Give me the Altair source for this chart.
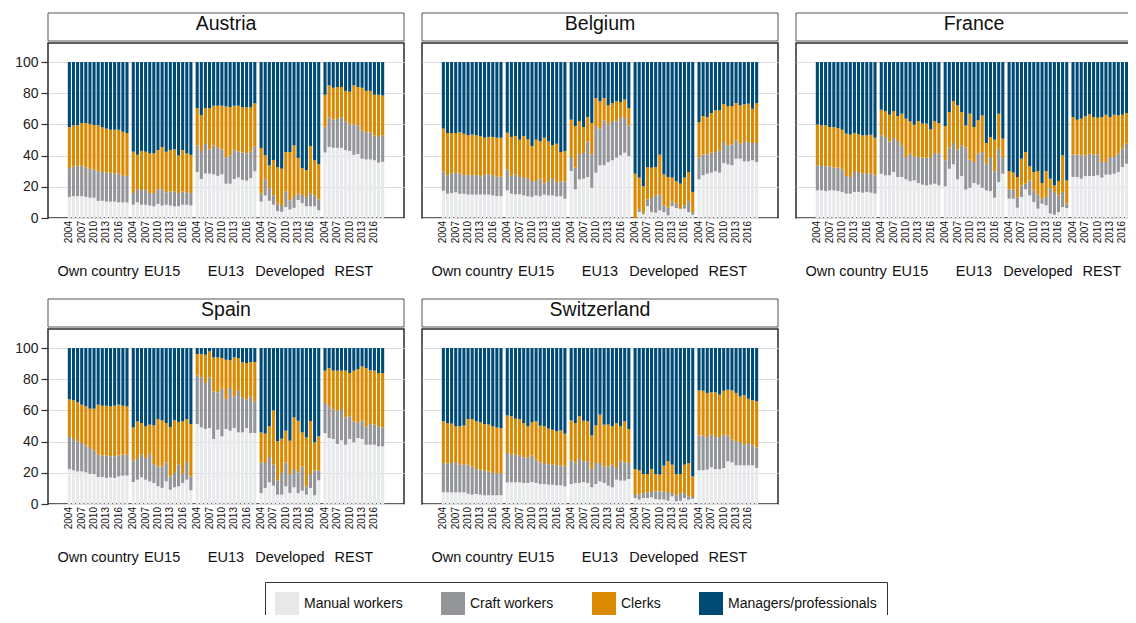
import altair as alt
import pandas as pd

FONT = "Liberation Sans"
GROUPS = ["Own country", "EU15", "EU13", "Developed", "REST"]
YEARS = list(range(2004, 2019))
LABEL_YEARS = [2004, 2007, 2010, 2013, 2016]
CATEGORIES = ["Manual workers", "Craft workers", "Clerks", "Managers/professionals"]
COLORS = ["#e8e9eb", "#949599", "#d98a00", "#004b76"]

# Cumulative upper edges (percent) of each segment; managers/professionals fill to 100.
# Each list: one row of 15 years (2004-2018) per origin group, in GROUPS order.
AUSTRIA_MANUAL = [
    [13.5, 14, 14, 14, 13.5, 13, 13, 11, 11, 10.5, 10.5, 10.5, 10, 10, 10],
    [8.5, 10, 8.5, 8.5, 8, 7.5, 9, 8, 8.5, 8, 7.5, 7.5, 8.5, 8.5, 8],
    [29.5, 25, 28.5, 28.5, 28, 27, 28, 22, 22, 25, 26, 24.5, 24, 25.5, 30],
    [10.5, 14.5, 11, 8.5, 4.5, 4, 7, 5.5, 6.5, 11.5, 9.5, 7.5, 7.5, 7.5, 5],
    [42, 45.5, 45, 45, 45, 43.5, 43, 40.5, 41, 38, 37.5, 37.5, 37, 35.5, 36],
]
AUSTRIA_CRAFT = [
    [32, 33, 33.5, 33.5, 32.5, 31.5, 31, 30, 29.5, 29, 29, 28.5, 28.5, 27, 27],
    [16, 18.5, 18, 18, 16, 16, 18.5, 18.5, 16.5, 17, 17, 16, 17, 16.5, 16],
    [46.5, 43, 47.5, 44, 46.5, 45, 44, 39, 40, 43.5, 42.5, 42, 41.5, 42.5, 46],
    [15.6, 24.8, 19.2, 14.5, 9.2, 7.7, 17.1, 11.3, 13.5, 15.6, 14.8, 13.5, 15.6, 14.5, 12],
    [58.5, 64.5, 63, 63.5, 64.5, 62, 60, 60, 59.5, 56, 55, 55, 53, 52, 53],
]
AUSTRIA_CLERKS = [
    [58.3, 59.4, 59.4, 60.9, 60.9, 60.3, 59.6, 59.4, 58.1, 57.3, 56.6, 56.6, 56.6, 55.3, 54.5],
    [42.5, 40.5, 43, 42.5, 41.5, 41.5, 43.5, 45.5, 42.5, 43.5, 44, 40, 43.5, 41.5, 40.5],
    [70.5, 66, 70.5, 70.5, 72, 72, 72, 71.5, 71, 72, 72, 71, 71, 71, 73.5],
    [44.9, 40.2, 33.8, 37.2, 32.7, 31.6, 42.3, 42.3, 46.6, 38.5, 32, 30.6, 46.2, 37, 34.6],
    [79, 85, 83.5, 84, 84, 81.5, 81, 85, 84, 83.5, 81.5, 81.5, 79, 79, 78.5],
]

BELGIUM_MANUAL = [
    [17.5, 15.5, 16, 16.5, 15.5, 15.5, 15, 15, 15, 15, 15, 15, 14.5, 14, 14],
    [17.7, 15.6, 15.2, 15.2, 14.5, 13.9, 13.5, 14.5, 13.9, 15, 14.5, 14.5, 13.9, 13.9, 12.4],
    [30.1, 18.4, 24.8, 25.2, 26.3, 19.4, 29.1, 33.8, 33.8, 35.9, 37, 38.7, 40.2, 41.9, 39.7],
    [0, 3.8, 2.4, 7.7, 3.8, 3.4, 4.9, 3.8, 1.7, 7.7, 6.4, 9.2, 6, 3.8, 2.1],
    [24.8, 27.4, 28.4, 29.1, 29.9, 29.1, 35.3, 34.4, 33.8, 38, 38, 36.3, 36.3, 37, 35.9],
]
BELGIUM_CRAFT = [
    [30, 27.5, 28.5, 29, 28.5, 27.5, 27.5, 27.5, 27.5, 26.5, 27.5, 28, 27.5, 26.5, 26.5],
    [31, 27, 28, 26.3, 26.3, 25.2, 23.7, 23.7, 25.2, 22, 23.7, 25.6, 23, 23.5, 23.5],
    [39.1, 32.3, 41, 41.7, 49.1, 40.8, 59, 57.3, 62.6, 60, 62.2, 62, 64.7, 64.1, 59.4],
    [0, 5.6, 3.4, 12, 12.8, 14.5, 15, 8.1, 6.6, 10.7, 9.2, 6, 8.1, 10.7, 3.8],
    [38.9, 40.8, 40.8, 41.9, 42.3, 43.4, 48.7, 46.6, 47, 49.8, 47.6, 48.7, 48.7, 48.1, 48.1],
]
BELGIUM_CLERKS = [
    [57.3, 54.5, 54.5, 54.5, 55, 54, 53, 53.5, 53, 52.5, 51.5, 52, 52, 51.5, 51.5],
    [54.7, 52, 52.6, 50.2, 52.6, 50.4, 46.2, 50.2, 49.1, 51.5, 49.1, 46.6, 47.6, 42.3, 43],
    [63, 59, 62.2, 58.3, 64.7, 60.9, 76.9, 74.8, 76.9, 72.2, 73.7, 74.8, 74.4, 75.9, 70.5],
    [28.4, 25.9, 20.3, 32.7, 32.3, 32.7, 40.6, 28, 26.3, 25.9, 23.7, 22, 25.9, 29.5, 16.7],
    [61.5, 65.4, 64.7, 67.3, 69, 69, 73.1, 71.8, 71.8, 73.7, 72.2, 72.9, 73.3, 70, 73.7],
]

FRANCE_MANUAL = [
    [17.7, 17.7, 17.3, 17.7, 17.7, 17.3, 16.7, 15.6, 15.6, 16.7, 16.7, 16.2, 16.7, 16.2, 15.6],
    [28.4, 27.4, 27.4, 29.5, 26.3, 26.3, 24.8, 23.5, 24.1, 22.4, 21.4, 20.9, 21.4, 22, 20.9],
    [20.3, 31.6, 34.4, 24.8, 26.9, 18.2, 19.4, 22.4, 21.4, 19.4, 17.7, 17.3, 13, 23, 28.4],
    [12.4, 12.4, 6.6, 13.5, 18.4, 14.5, 10.3, 6, 9.2, 8.1, 2.8, 2.1, 3.8, 7, 6.4],
    [26.3, 26.3, 25.2, 26.9, 26.9, 26.9, 27.4, 25.9, 27.8, 27.8, 28.4, 29.5, 32.7, 34.8, 27.4],
]
FRANCE_CRAFT = [
    [33.8, 33.3, 33.3, 33.1, 32.3, 32.3, 31.2, 26.9, 26.3, 29.5, 29.5, 28.4, 28.8, 28.4, 27.4],
    [53, 51.9, 49.1, 51.3, 49.4, 46.6, 39.1, 41.2, 39.5, 39.1, 38.7, 38.7, 39.1, 41.7, 41.2],
    [37, 45.1, 48.1, 44, 46.6, 45.1, 37.4, 35.9, 41.2, 42.3, 34.8, 39.1, 29.9, 44.4, 39.1],
    [18.4, 18.4, 13, 20.9, 22, 24.1, 17.7, 15, 12.4, 13.5, 19.2, 16.7, 14.5, 16.7, 9.2],
    [40.8, 40.6, 40.2, 40.2, 41.2, 40.8, 40.8, 35.9, 35.9, 39.1, 39.1, 41.2, 44.4, 47.6, 40.2],
]
FRANCE_CLERKS = [
    [60, 59.4, 59.4, 58.3, 58.3, 57.7, 56.6, 54.1, 53.4, 54.5, 53.6, 53, 53, 53.4, 51.5],
    [69.4, 68.4, 66.2, 68.6, 65.4, 66.9, 63.7, 62, 59.8, 62.2, 60.5, 60.5, 56.8, 62.2, 60.9],
    [59, 67.9, 75, 72.2, 67.9, 59.4, 66.9, 58.3, 62.6, 65.8, 48.1, 51.9, 50.2, 66.9, 50.9],
    [30.1, 29.1, 26.3, 38, 42.3, 33.1, 29.5, 30.1, 22.4, 30.1, 25.2, 20.9, 23.7, 40.2, 24.1],
    [64.7, 63, 63.7, 65.2, 66.5, 64.7, 64.3, 64.7, 66.2, 64.7, 66.2, 65.8, 66.2, 67.3, 64.7],
]

SPAIN_MANUAL = [
    [22.4, 21.6, 20.9, 20.9, 20.3, 19.4, 19.2, 17.3, 17.3, 16.7, 17.1, 16.7, 17.7, 18.2, 18.2],
    [14.1, 15.6, 17.1, 15.6, 14.5, 13.5, 11.3, 10.3, 14.5, 9.2, 10.7, 11.3, 13.5, 15.6, 8.8],
    [51.3, 49.1, 48.1, 48.7, 41.7, 47.6, 43.4, 48.1, 47, 48.7, 45.9, 45.9, 48.7, 45.5, 45.5],
    [7, 10.3, 13.9, 11.8, 6, 6, 11.3, 7, 10.7, 7, 8.5, 6, 10.3, 5.6, 15.2],
    [45.5, 42.3, 41.7, 38.5, 40.8, 38, 41.7, 39.5, 42.3, 41.7, 38, 38, 38, 37, 37],
]
SPAIN_CRAFT = [
    [43, 41.7, 40.2, 39.1, 37.6, 35.9, 34.2, 31.6, 31.2, 31, 30.6, 30.6, 31.2, 31.6, 31.6],
    [27.8, 29.5, 31.6, 29.5, 31.6, 25.6, 24.1, 24.1, 26.7, 17.7, 19.9, 25.2, 19.4, 26.9, 17.7],
    [82.5, 81.2, 77.6, 81.2, 72.2, 71.6, 73.9, 67.5, 74.4, 69, 72.6, 68.4, 66.9, 69, 65.8],
    [26.7, 26.3, 30.1, 25.2, 15, 19.9, 26.7, 19.2, 22.4, 20.3, 24.1, 11.3, 19.2, 21.4, 21.4],
    [64.7, 62.6, 60.5, 59.8, 60.9, 55.6, 56.2, 52.9, 52.1, 53.4, 49.8, 51.3, 50.9, 49.8, 49],
]
SPAIN_CLERKS = [
    [67.1, 66.5, 65.2, 63.7, 62.6, 61.1, 61.1, 63.7, 63, 63, 62.6, 63, 63.7, 63, 62.6],
    [49.1, 52.9, 51.9, 49.8, 50.9, 50.4, 54.5, 53.6, 51.9, 49.4, 53.6, 52.6, 52.9, 54.5, 51.3],
    [96.2, 96.2, 95.7, 97.9, 94, 94, 93.6, 92.5, 92.1, 94, 93.6, 90.8, 90.4, 91, 91],
    [45.9, 45.1, 49.8, 60, 40.2, 41.9, 47, 40.6, 55.6, 53.4, 45.9, 42.7, 53.2, 39.5, 43.4],
    [85.5, 87.2, 85.5, 85.5, 85.5, 85.5, 84, 85.5, 86.5, 88.2, 87.2, 85.7, 85.5, 84, 84],
]

SWITZERLAND_MANUAL = [
    [7.5, 7.5, 7.5, 7.5, 7.5, 7.5, 6.6, 6, 6.4, 6, 5.6, 5.6, 5.6, 5.6, 5.6],
    [13.9, 13.9, 13.9, 13.9, 13.5, 13.5, 14.1, 13.5, 12.8, 12.8, 12.4, 12.4, 12, 12, 11.3],
    [12.8, 13.5, 13.5, 14.1, 13.5, 10.7, 12.8, 14.5, 13.5, 11.8, 10.7, 15.6, 15, 15, 16],
    [3.8, 2.8, 3.8, 3.8, 4.3, 3.2, 2.8, 2.8, 2.1, 4.9, 1.7, 2.1, 3.8, 2.8, 3.4],
    [21.6, 21.6, 22, 23.5, 22.4, 22.4, 23.1, 27.4, 26.7, 24.8, 24.8, 24.8, 24.8, 24.8, 23.1],
]
SWITZERLAND_CRAFT = [
    [26.3, 25.9, 26.3, 26.9, 25.2, 25.2, 25.2, 24.1, 22.4, 22, 21.4, 20.9, 19.9, 19.9, 19.4],
    [32.7, 31.6, 31.6, 31, 29.9, 29.9, 31.2, 28.4, 26.7, 26.3, 25.6, 25.2, 24.8, 24.8, 24.1],
    [28, 26.7, 28.8, 27.4, 27.4, 22.6, 26.3, 26.3, 24.1, 24.1, 25.2, 23.1, 27.8, 26.7, 26.3],
    [6.4, 6, 7, 7.5, 7.7, 8.5, 8.1, 8.1, 7.7, 7, 5.6, 7, 7, 4.9, 4.5],
    [44, 43.8, 42.9, 44.4, 42.9, 42.9, 44.4, 44, 41.2, 40.2, 39.7, 38, 39.1, 37.6, 36.3],
]
SWITZERLAND_CLERKS = [
    [53, 51.9, 51.5, 49.8, 49.8, 50.4, 54.5, 54.5, 53, 52.4, 51.3, 50.9, 49.8, 49.1, 48.7],
    [56.8, 56.2, 54.7, 54.5, 51.9, 49.8, 52.4, 53, 50.2, 49.8, 48.3, 47.6, 46.6, 47.2, 45.1],
    [53.6, 51.9, 56.2, 53.4, 53, 44, 50.4, 57.3, 50.9, 50.9, 49.8, 51.9, 49.8, 53, 48.1],
    [22.4, 21.6, 19.2, 19.2, 22.4, 19.2, 18.8, 24.6, 27.4, 25.2, 19.2, 19.2, 25.2, 26.3, 17.7],
    [72.9, 72.6, 71.2, 71.6, 71.6, 70.1, 72.6, 73.3, 72.9, 71.2, 69, 69.7, 67.5, 66.5, 65.8],
]

TOPS = {
    "Austria": (AUSTRIA_MANUAL, AUSTRIA_CRAFT, AUSTRIA_CLERKS),
    "Belgium": (BELGIUM_MANUAL, BELGIUM_CRAFT, BELGIUM_CLERKS),
    "France": (FRANCE_MANUAL, FRANCE_CRAFT, FRANCE_CLERKS),
    "Spain": (SPAIN_MANUAL, SPAIN_CRAFT, SPAIN_CLERKS),
    "Switzerland": (SWITZERLAND_MANUAL, SWITZERLAND_CRAFT, SWITZERLAND_CLERKS),
}

W = 356      # plot width of each panel
PH = 175     # plot height of each panel
HH = 28      # header box height
YMAX = 112.2


def country_frame(name):
    manual, craft, clerks = TOPS[name]
    rows = []
    for gi, g in enumerate(GROUPS):
        for yi, yr in enumerate(YEARS):
            edges = [0, manual[gi][yi], craft[gi][yi], clerks[gi][yi], 100]
            for ci, cat in enumerate(CATEGORIES):
                rows.append({"group": g, "year": yr, "category": cat,
                             "lo": edges[ci], "hi": edges[ci + 1]})
    return pd.DataFrame(rows)


def body(name, show_y):
    df = country_frame(name)
    xenc = alt.X(
        "group:N",
        scale=alt.Scale(domain=GROUPS, paddingInner=0.05, paddingOuter=0.31),
        axis=alt.Axis(title=None, labelAngle=0, labelPadding=46, ticks=False, domain=False,
                      labelFont=FONT, labelFontSize=14.5, labelColor="#111",
                      labelOverlap=False, labelBaseline="top"),
    )
    xoff = alt.XOffset("year:O", scale=alt.Scale(domain=YEARS, paddingInner=0.25, paddingOuter=0))
    if show_y:
        yaxis = alt.Axis(title=None, values=[0, 20, 40, 60, 80, 100], grid=True,
                         gridColor="#dcdcdc", gridWidth=1.2, domain=False,
                         tickSize=7, tickColor="#333", tickWidth=1.2, labelPadding=3,
                         labelFont=FONT, labelFontSize=14, labelColor="#222")
    else:
        yaxis = alt.Axis(title=None, values=[0, 20, 40, 60, 80, 100], grid=True,
                         gridColor="#dcdcdc", gridWidth=1.2, domain=False,
                         ticks=False, labels=False)
    bars = alt.Chart(df).mark_bar().encode(
        x=xenc,
        xOffset=xoff,
        y=alt.Y("lo:Q", scale=alt.Scale(domain=[0, YMAX], nice=False), axis=yaxis),
        y2="hi:Q",
        color=alt.Color(
            "category:N",
            scale=alt.Scale(domain=CATEGORIES, range=COLORS),
            legend=alt.Legend(title=None, orient="none", legendX=217, legendY=569,
                              direction="horizontal", symbolType="square", symbolSize=576,
                              symbolStrokeWidth=0, labelFont=FONT, labelFontSize=14,
                              labelColor="#111", strokeColor="#333", padding=10,
                              columnPadding=38, labelOffset=5),
        ),
    )
    lab_df = pd.DataFrame([(g, y) for g in GROUPS for y in LABEL_YEARS], columns=["group", "year"])
    labels = alt.Chart(lab_df).mark_text(
        angle=270, align="right", baseline="middle", fontSize=10, font=FONT, color="#111"
    ).encode(x=xenc, xOffset=xoff, y=alt.value(PH + 3), text="year:O")
    return alt.layer(bars, labels).properties(
        width=W, height=PH, view=alt.ViewBackground(stroke="#2b2b2b", strokeWidth=1.5)
    )


def panel(name, show_y):
    hd = pd.DataFrame({"country": [name]})
    box = alt.Chart(hd).mark_rect(fill="white", stroke="#555", strokeWidth=1).encode(
        x=alt.value(0), x2=alt.value(W), y=alt.value(0), y2=alt.value(HH)
    )
    txt = alt.Chart(hd).mark_text(font=FONT, fontSize=19.5, color="#111", baseline="alphabetic").encode(
        x=alt.value(W / 2), y=alt.value(17), text="country:N"
    )
    header = alt.layer(box, txt).properties(
        width=W, height=HH, view=alt.ViewBackground(stroke="transparent")
    )
    return alt.vconcat(header, body(name, show_y), spacing=0)


row1 = alt.hconcat(panel("Austria", True), panel("Belgium", False), panel("France", False), spacing=16)
row2 = alt.hconcat(panel("Spain", True), panel("Switzerland", False), spacing=16)

# The visible canvas is fixed (like the cropped reference); content past it is cut off.
chart = alt.vconcat(row1, row2, spacing=19).properties(
    autosize=alt.AutoSizeParams(type="none"),
    padding={"left": 40, "top": 5, "right": 1080, "bottom": 602},
    background="white",
).configure(font=FONT)

chart.save("out.html", embed_options={"renderer": "svg", "actions": False})
